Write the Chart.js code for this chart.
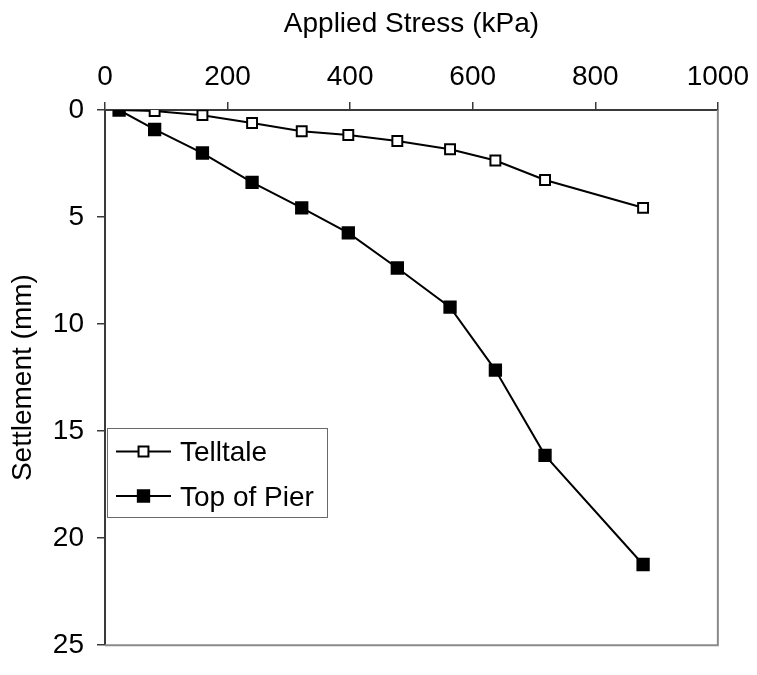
<!DOCTYPE html>
<html>
<head>
<meta charset="utf-8">
<style>
html,body{margin:0;padding:0;background:#ffffff;}
#wrap{width:757px;height:675px;position:relative;}
</style>
<script src="https://cdn.jsdelivr.net/npm/chart.js@4.4.1/dist/chart.umd.min.js"></script>
</head>
<body>
<div id="wrap"><canvas id="c" width="757" height="675"></canvas></div>
<script>
// ---- data ----
const stress = [23, 81, 159, 240, 321, 397, 477, 563, 637, 718, 878];
const telltale = [0, 0.05, 0.24, 0.61, 0.99, 1.17, 1.45, 1.83, 2.36, 3.27, 4.57];
const topOfPier = [0, 0.91, 2.01, 3.38, 4.57, 5.74, 7.38, 9.21, 12.15, 16.13, 21.23];
const seriesNames = ['Telltale', 'Top of Pier'];
const xTickValues = [0, 200, 400, 600, 800, 1000];
const yTickValues = [0, 5, 10, 15, 20, 25];
const xTitle = 'Applied Stress (kPa)';
const yTitle = 'Settlement (mm)';

// ---- styles ----
const FONT = 'Liberation Sans, Arial, sans-serif';
const FS = 28;
const AXIS = '#3a3a3a';
const FRAME = '#8a8a8a';

const toPoints = (ys) => stress.map((x, i) => ({ x: x, y: ys[i] }));

const frame = {
  id: 'frame',
  beforeDatasetsDraw(chart) {
    const { ctx, chartArea: a } = chart;
    ctx.save();
    ctx.strokeStyle = FRAME;
    ctx.lineWidth = 2;
    ctx.beginPath();
    ctx.moveTo(a.left, a.bottom);
    ctx.lineTo(a.right, a.bottom);
    ctx.lineTo(a.right, a.top);
    ctx.stroke();
    ctx.restore();
  }
};

const boxLegend = {
  id: 'boxLegend',
  afterDraw(chart) {
    const { ctx, chartArea: a } = chart;
    const bx = a.left + 2, by = a.top + 318, bw = 220, bh = 89;
    ctx.save();
    ctx.fillStyle = '#ffffff';
    ctx.fillRect(bx, by, bw, bh);
    ctx.strokeStyle = '#6a6a6a';
    ctx.lineWidth = 1;
    ctx.strokeRect(Math.round(bx) + 0.5, Math.round(by) + 0.5, bw, bh);
    const rows = [by + 23.5, by + 68];
    chart.data.datasets.forEach((ds, i) => {
      const y = rows[i];
      ctx.strokeStyle = ds.borderColor;
      ctx.lineWidth = 2;
      ctx.beginPath();
      ctx.moveTo(bx + 9, y);
      ctx.lineTo(bx + 64, y);
      ctx.stroke();
      ctx.fillStyle = ds.pointBackgroundColor;
      ctx.strokeStyle = ds.pointBorderColor;
      ctx.lineWidth = ds.pointBorderWidth;
      ctx.beginPath();
      const s = Math.SQRT1_2 * ds.pointRadius;
      ctx.rect(bx + 36.5 - s, y - s, 2 * s, 2 * s);
      ctx.fill();
      ctx.stroke();
      ctx.fillStyle = '#000000';
      ctx.font = FS + 'px ' + FONT;
      ctx.textBaseline = 'alphabetic';
      ctx.textAlign = 'left';
      ctx.fillText(ds.label, bx + 73, y + 9.8);
    });
    ctx.restore();
  }
};

new Chart(document.getElementById('c'), {
  type: 'line',
  data: {
    datasets: [
      {
        label: seriesNames[0],
        data: toPoints(telltale),
        borderColor: '#000000',
        borderWidth: 2,
        pointStyle: 'rect',
        pointRadius: 7,
        pointBorderWidth: 2,
        pointBackgroundColor: '#ffffff',
        pointBorderColor: '#000000',
        fill: false,
        tension: 0,
        order: 1
      },
      {
        label: seriesNames[1],
        data: toPoints(topOfPier),
        borderColor: '#000000',
        borderWidth: 2,
        pointStyle: 'rect',
        pointRadius: 8,
        pointBorderWidth: 2,
        pointBackgroundColor: '#000000',
        pointBorderColor: '#000000',
        fill: false,
        tension: 0,
        order: 0
      }
    ]
  },
  options: {
    responsive: false,
    devicePixelRatio: 1,
    animation: false,
    events: [],
    layout: { padding: { left: 0, top: 0, right: 37, bottom: 18 } },
    plugins: {
      legend: { display: false },
      tooltip: { enabled: false },
      title: { display: false }
    },
    scales: {
      x: {
        type: 'linear',
        position: 'top',
        min: xTickValues[0],
        max: xTickValues[xTickValues.length - 1],
        afterBuildTicks: (s) => { s.ticks = xTickValues.map(v => ({ value: v })); },
        afterFit: (s) => { s.height = 110; },
        grid: { display: true, drawOnChartArea: false, drawTicks: true, tickLength: 8, color: AXIS, lineWidth: 1.5 },
        border: { display: true, color: AXIS, width: 2 },
        ticks: { color: '#000000', font: { family: FONT, size: FS }, padding: 8, maxRotation: 0, autoSkip: false,
                 callback: (v) => String(v) },
        title: { display: true, text: xTitle, color: '#000000', font: { family: FONT, size: FS }, padding: { top: 7, bottom: 0 } }
      },
      y: {
        type: 'linear',
        position: 'left',
        reverse: true,
        min: yTickValues[0],
        max: yTickValues[yTickValues.length - 1],
        afterBuildTicks: (s) => { s.ticks = yTickValues.map(v => ({ value: v })); },
        afterFit: (s) => { s.width = 105; },
        grid: { display: true, drawOnChartArea: false, drawTicks: true, tickLength: 8, color: AXIS, lineWidth: 1.5 },
        border: { display: true, color: AXIS, width: 2 },
        ticks: { color: '#000000', font: { family: FONT, size: FS }, padding: 13, autoSkip: false,
                 callback: (v) => String(v) },
        title: { display: true, text: yTitle, color: '#000000', font: { family: FONT, size: FS }, padding: { top: 6, bottom: 0 } }
      }
    }
  },
  plugins: [frame, boxLegend]
});
</script>
</body>
</html>
